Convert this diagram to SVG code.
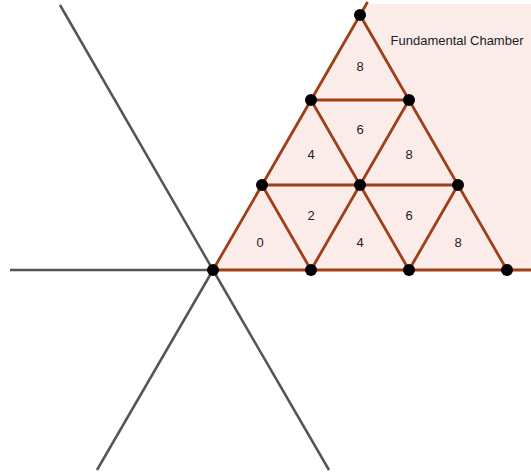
<svg xmlns="http://www.w3.org/2000/svg" width="531" height="474" viewBox="0 0 531 474">
<style>
.g{stroke:#555;stroke-width:2.5;fill:none}
.b{stroke:#9e3f17;stroke-width:2.8;fill:none;stroke-linecap:round}
.d{fill:#000}
text{font-family:"Liberation Sans",Arial,sans-serif;font-size:13px;fill:#222;text-anchor:middle}
</style>
<rect width="531" height="474" fill="#fff"/>
<polygon points="213,270 365.6,4 531,4 531,270" fill="#fbecea"/>
<g id="connectors">
<line class="g" x1="10" y1="270" x2="213" y2="270"/>
<line class="g" x1="60" y1="5" x2="213" y2="270"/>
<line class="g" x1="97" y1="470" x2="213" y2="270"/>
<line class="g" x1="329" y1="470" x2="213" y2="270"/>
<line class="b" x1="213" y1="270" x2="367" y2="3"/>
<line class="b" x1="213" y1="270" x2="531" y2="270"/>
<line class="b" x1="262" y1="185" x2="458" y2="185"/>
<line class="b" x1="311" y1="100" x2="409" y2="100"/>
<line class="b" x1="360" y1="15" x2="507" y2="270"/>
<line class="b" x1="311" y1="100" x2="409" y2="270"/>
<line class="b" x1="262" y1="185" x2="311" y2="270"/>
<line class="b" x1="311" y1="270" x2="409" y2="100"/>
<line class="b" x1="409" y1="270" x2="458" y2="185"/>
</g>
<g id="nodes">
<circle class="d" cx="213" cy="270" r="6"/>
<circle class="d" cx="311" cy="270" r="6"/>
<circle class="d" cx="409" cy="270" r="6"/>
<circle class="d" cx="507" cy="270" r="6"/>
<circle class="d" cx="262" cy="185" r="6"/>
<circle class="d" cx="360" cy="185" r="6"/>
<circle class="d" cx="458" cy="185" r="6"/>
<circle class="d" cx="311" cy="100" r="6"/>
<circle class="d" cx="409" cy="100" r="6"/>
<circle class="d" cx="360" cy="15" r="6"/>
</g>
<g id="labels">
<text x="360" y="71">8</text>
<text x="360" y="134">6</text>
<text x="311" y="159">4</text>
<text x="409" y="159">8</text>
<text x="311" y="220">2</text>
<text x="409" y="220">6</text>
<text x="260" y="247">0</text>
<text x="360" y="247">4</text>
<text x="458" y="247">8</text>
<text x="457" y="45">Fundamental Chamber</text>
</g>
</svg>
